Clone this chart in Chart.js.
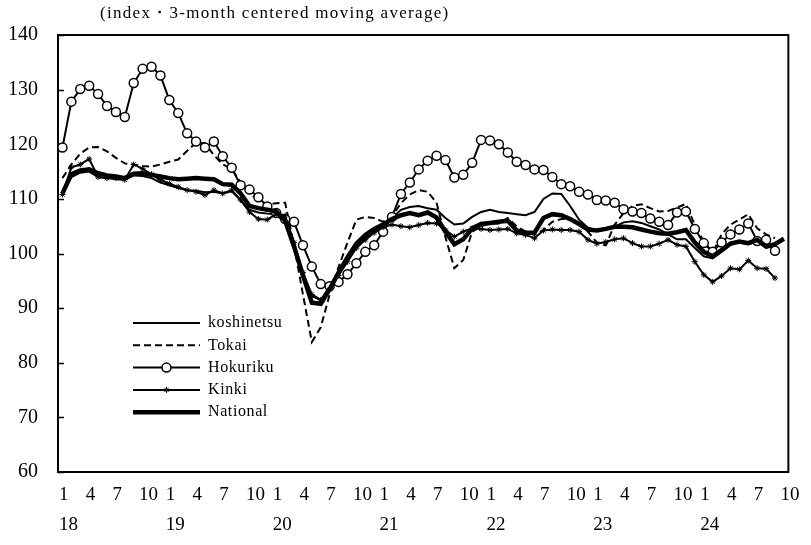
<!DOCTYPE html>
<html>
<head>
<meta charset="utf-8">
<script src="https://cdn.jsdelivr.net/npm/chart.js@4.4.0/dist/chart.umd.min.js"></script>
<style>
  html, body { margin: 0; padding: 0; background: #fff; }
  #wrap { width: 811px; height: 545px; }
</style>
</head>
<body>
<div id="wrap"><canvas id="chart" width="811" height="545"></canvas></div>
<script>
// monthly, Jan 2018 .. Oct 2024 (regional series stop at Sep 2024)
const years = ['18', '19', '20', '21', '22', '23', '24'];
const lastMonth = 10;

const koshinetsu = [
  111.0, 114.0, 114.8, 115.0, 114.0, 113.8, 113.6, 113.5, 114.3, 114.2, 113.8, 113.0,
  112.5, 112.0, 111.6, 111.5, 111.2, 111.3, 111.0, 111.4, 109.8, 108.0, 107.5, 107.3,
  107.2, 105.5, 100.8, 95.5, 92.2, 91.5, 94.0, 96.5, 99.0, 101.3, 102.9, 103.9,
  105.0, 106.5, 108.0, 108.5, 108.7, 108.3, 108.0, 106.5, 105.3, 105.5, 106.7, 107.6,
  108.0, 107.6, 107.4, 107.2, 107.0, 107.6, 110.0, 111.0, 110.9, 108.7, 106.2, 104.7,
  104.2, 104.3, 104.9, 105.7, 105.9, 105.6, 105.0, 104.4, 103.5, 102.6, 102.6, 101.0,
  99.5, 99.1, 100.3, 101.6, 102.0, 101.7, 102.2, 101.0, 101.4, null
];
const tokai = [
  113.8, 116.3, 118.3, 119.4, 119.5, 118.7, 117.5, 116.5, 116.3, 116.0, 115.9, 116.3,
  116.8, 117.2, 118.8, 120.3, 120.2, 118.0, 116.3, 115.5, 113.0, 111.0, 109.8, 109.0,
  109.2, 109.3, 101.5, 92.5, 83.8, 86.5, 92.5, 97.5, 102.0, 106.2, 106.7, 106.5,
  105.8, 106.8, 109.2, 110.8, 111.6, 111.3, 109.3, 103.0, 97.3, 98.8, 104.0, 105.0,
  105.5, 105.5, 106.5, 105.0, 104.0, 103.4, 104.3, 105.8, 106.3, 106.3, 105.5, 104.0,
  102.0, 101.5, 105.3, 107.4, 108.7, 109.0, 108.3, 107.7, 107.8, 108.4, 109.1, 105.2,
  102.2, 100.2, 103.5, 105.3, 106.2, 107.2, 104.6, 103.5, 102.8, null
];
const hokuriku = [
  119.4, 127.8, 130.1, 130.7, 129.2, 127.0, 125.9, 125.0, 131.2, 133.8, 134.2, 132.6,
  128.1, 125.7, 122.0, 120.5, 119.4, 120.5, 117.8, 115.7, 112.5, 111.7, 110.3, 108.6,
  107.4, 106.3, 105.8, 101.5, 97.6, 94.4, 94.0, 94.8, 96.2, 98.2, 100.3, 101.5,
  104.0, 106.7, 110.9, 113.0, 115.4, 117.0, 117.9, 117.1, 113.9, 114.4, 116.6, 120.8,
  120.7, 120.0, 118.5, 116.8, 116.2, 115.4, 115.3, 114.0, 112.7, 112.3, 111.3, 110.8,
  109.8, 109.7, 109.3, 108.1, 107.7, 107.4, 106.4, 105.8, 105.2, 107.5, 107.7, 104.5,
  101.9, 100.3, 102.0, 103.5, 104.4, 105.5, 102.3, 102.5, 100.5, null
];
const kinki = [
  110.8, 115.8, 116.3, 117.3, 114.0, 113.8, 113.8, 113.5, 116.3, 115.5, 114.5, 113.5,
  112.8, 112.2, 111.6, 111.3, 110.7, 111.6, 111.0, 111.6, 109.8, 107.6, 106.3, 106.2,
  107.2, 106.9, 102.0, 96.5, 92.5, 91.5, 93.5, 96.0, 98.5, 101.0, 102.5, 103.8,
  104.8, 105.3, 105.0, 104.8, 105.2, 105.6, 105.5, 104.3, 103.1, 104.0, 104.6, 104.5,
  104.3, 104.4, 104.5, 103.7, 103.4, 102.8, 104.2, 104.4, 104.3, 104.3, 104.0, 102.5,
  101.8, 102.1, 102.6, 102.8, 101.9, 101.3, 101.3, 101.8, 102.5, 101.6, 101.3, 98.5,
  96.1, 94.8, 95.9, 97.3, 97.1, 98.7, 97.3, 97.2, 95.5, null
];
const national = [
  111.0, 114.5, 115.2, 115.4, 114.7, 114.3, 114.1, 113.8, 114.6, 114.7, 114.4, 114.1,
  113.8, 113.6, 113.7, 113.8, 113.7, 113.6, 112.7, 112.6, 111.0, 108.7, 108.3, 108.0,
  107.7, 106.0, 101.3, 96.0, 91.0, 90.8, 93.5, 96.5, 99.3, 101.8, 103.4, 104.5,
  105.3, 106.3, 107.0, 107.4, 107.0, 107.5, 106.6, 104.0, 101.7, 102.6, 104.6, 105.4,
  105.6, 105.8, 106.0, 104.2, 103.8, 103.8, 106.5, 107.2, 107.0, 106.3, 105.4, 104.4,
  104.2, 104.5, 104.9, 104.9, 104.8, 104.4, 104.0, 103.7, 103.6, 103.9, 104.3, 102.0,
  100.3, 99.5, 100.6, 101.8, 102.2, 101.9, 102.5, 101.3, 101.7, 102.7
];

const yTicks = { min: 60, max: 140, step: 10 };
const subtitle = '(index\u30FB3-month centered moving average)';

// category per month, label shows 1/4/7/10 and the year under January
const months = [];
years.forEach((y, yi) => {
  for (let m = 1; m <= 12; m++) {
    if (yi === years.length - 1 && m > lastMonth) break;
    months.push({ year: y, month: m });
  }
});

const serif = '"Liberation Serif", "DejaVu Serif", serif';

const frame = {
  id: 'frame',
  beforeDatasetsDraw(chart) {
    const { ctx, chartArea: a } = chart;
    const y = chart.scales.y;
    ctx.save();
    ctx.strokeStyle = '#000';
    ctx.lineWidth = 1.5;
    y.ticks.forEach((t, i) => {
      const py = Math.round(y.getPixelForTick(i)) + 0.5;
      ctx.beginPath();
      ctx.moveTo(a.left, py);
      ctx.lineTo(a.left + 6, py);
      ctx.stroke();
    });
    ctx.lineWidth = 2;
    ctx.strokeRect(a.left, a.top, a.right - a.left, a.bottom - a.top);
    ctx.restore();
  },
  afterDraw(chart) {
    const { ctx, chartArea: a } = chart;
    ctx.save();
    ctx.fillStyle = '#000';
    ctx.textBaseline = 'middle';
    ctx.font = '17px ' + serif;
    ctx.letterSpacing = '1.3px';
    ctx.fillText(subtitle, a.left + 42, a.top - 21);

    // legend in the lower left of the plot
    ctx.font = '16px ' + serif;
    ctx.letterSpacing = '0.6px';
    const x0 = a.left + 75, x1 = a.left + 142;
    chart.data.datasets.forEach((ds, i) => {
      const ly = a.top + 288 + i * 22.3;
      ctx.strokeStyle = '#000';
      ctx.lineWidth = ds.borderWidth;
      ctx.setLineDash(ds.borderDash || []);
      ctx.beginPath();
      ctx.moveTo(x0, ly);
      ctx.lineTo(x1, ly);
      ctx.stroke();
      ctx.setLineDash([]);
      if (ds.pointRadius > 0) {
        ctx.fillStyle = ds.pointBackgroundColor;
        ctx.strokeStyle = ds.pointBorderColor;
        ctx.lineWidth = ds.pointBorderWidth;
        Chart.helpers.drawPoint(ctx, {
          pointStyle: ds.pointStyle, radius: ds.pointRadius,
          borderWidth: ds.pointBorderWidth, rotation: 0
        }, (x0 + x1) / 2, ly);
      }
      ctx.fillStyle = '#000';
      ctx.fillText(ds.label, x1 + 8, ly);
    });
    ctx.restore();
  }
};

function series(label, data, extra) {
  return Object.assign({
    label, data,
    borderColor: '#000', backgroundColor: '#000',
    borderWidth: 2, pointRadius: 0, tension: 0, spanGaps: false
  }, extra);
}

new Chart(document.getElementById('chart'), {
  type: 'line',
  data: {
    labels: months.map(d => d.year + '/' + d.month),
    datasets: [
      series('koshinetsu', koshinetsu, { order: 4 }),
      series('Tokai', tokai, { order: 3, borderDash: [7, 4] }),
      series('Hokuriku', hokuriku, {
        order: 2, pointRadius: 4.5, pointStyle: 'circle',
        pointBackgroundColor: '#fff', pointBorderColor: '#000', pointBorderWidth: 1.5
      }),
      series('Kinki', kinki, {
        order: 1, pointRadius: 3, pointStyle: 'star',
        pointBackgroundColor: '#000', pointBorderColor: '#000', pointBorderWidth: 1
      }),
      series('National', national, { order: 0, borderWidth: 4.5 })
    ]
  },
  options: {
    responsive: false,
    animation: false,
    devicePixelRatio: 1,
    layout: { padding: { top: 35, right: 15, left: 0, bottom: 0 } },
    plugins: { legend: { display: false }, tooltip: { enabled: false } },
    scales: {
      x: {
        type: 'category',
        offset: true,
        grid: { display: false, drawTicks: false },
        border: { display: false },
        afterFit(s) { s.height = 73; },
        ticks: {
          autoSkip: false,
          maxRotation: 0,
          minRotation: 0,
          align: 'start',
          labelOffset: -3.5,
          padding: 8,
          color: '#000',
          font: { family: serif, size: 19, lineHeight: 30 / 19 },
          callback(v, i) {
            const d = months[i];
            if (d.month % 3 !== 1) return '';
            return d.month === 1 ? [String(d.month), d.year] : String(d.month);
          }
        }
      },
      y: {
        min: yTicks.min,
        max: yTicks.max,
        grid: { display: false, drawTicks: false },
        border: { display: false },
        afterFit(s) { s.width = 58; },
        ticks: {
          stepSize: yTicks.step,
          padding: 20,
          color: '#000',
          font: { family: serif, size: 20 }
        }
      }
    }
  },
  plugins: [frame]
});
</script>
</body>
</html>
